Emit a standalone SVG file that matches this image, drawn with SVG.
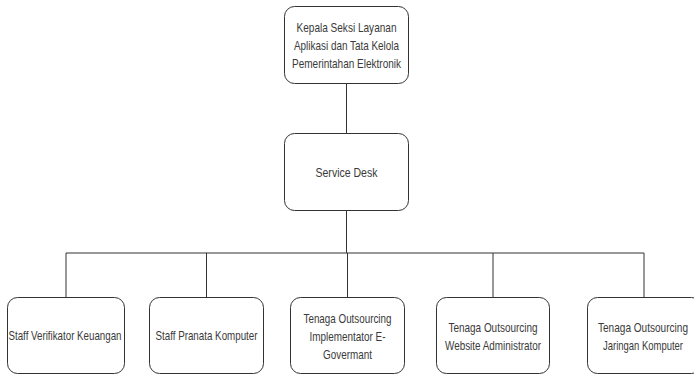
<svg xmlns="http://www.w3.org/2000/svg" width="694" height="375" viewBox="0 0 694 375">
  <style>
    .box { fill: #ffffff; stroke: #333333; stroke-width: 1; }
    .link { fill: none; stroke: #333333; stroke-width: 1; }
    .lbl { font-family: "Liberation Sans", Arial, sans-serif; font-size: 13px; fill: #3a3a3a; text-anchor: middle; dominant-baseline: central; }
  </style>
  <rect width="694" height="375" fill="#ffffff"/>

  <g id="connectors">
    <path class="link" d="M346.5 83 V133"/>
    <path class="link" d="M346.5 211 V253"/>
    <path class="link" d="M66 253 H644"/>
    <path class="link" d="M66 253 V297"/>
    <path class="link" d="M206.5 253 V297"/>
    <path class="link" d="M347.5 253 V297"/>
    <path class="link" d="M493 253 V297"/>
    <path class="link" d="M644 253 V297"/>
  </g>

  <g id="kepala-seksi">
    <rect class="box" x="284.5" y="6.5" width="124" height="77" rx="10"/>
    <text class="lbl" x="346.5" y="27" textLength="100" lengthAdjust="spacingAndGlyphs">Kepala Seksi Layanan</text>
    <text class="lbl" x="346.5" y="45" textLength="105" lengthAdjust="spacingAndGlyphs">Aplikasi dan Tata Kelola</text>
    <text class="lbl" x="346.5" y="63" textLength="109" lengthAdjust="spacingAndGlyphs">Pemerintahan Elektronik</text>
  </g>

  <g id="service-desk">
    <rect class="box" x="284.5" y="133.5" width="124" height="77" rx="10"/>
    <text class="lbl" x="346.5" y="172" textLength="62" lengthAdjust="spacingAndGlyphs">Service Desk</text>
  </g>

  <g id="staff-verifikator">
    <rect class="box" x="7.5" y="297.5" width="117" height="76" rx="10"/>
    <text class="lbl" x="65" y="335" textLength="113" lengthAdjust="spacingAndGlyphs">Staff Verifikator Keuangan</text>
  </g>

  <g id="staff-pranata">
    <rect class="box" x="149.5" y="297.5" width="114" height="76" rx="10"/>
    <text class="lbl" x="206.5" y="335" textLength="102" lengthAdjust="spacingAndGlyphs">Staff Pranata Komputer</text>
  </g>

  <g id="outsourcing-egov">
    <rect class="box" x="290.5" y="297.5" width="114" height="76" rx="10"/>
    <text class="lbl" x="347.5" y="318" textLength="88" lengthAdjust="spacingAndGlyphs">Tenaga Outsourcing</text>
    <text class="lbl" x="347.5" y="336" textLength="76" lengthAdjust="spacingAndGlyphs">Implementator E-</text>
    <text class="lbl" x="347.5" y="354" textLength="49" lengthAdjust="spacingAndGlyphs">Govermant</text>
  </g>

  <g id="outsourcing-website">
    <rect class="box" x="436.5" y="297.5" width="113" height="76" rx="10"/>
    <text class="lbl" x="493" y="327" textLength="89" lengthAdjust="spacingAndGlyphs">Tenaga Outsourcing</text>
    <text class="lbl" x="493" y="345" textLength="96" lengthAdjust="spacingAndGlyphs">Website Administrator</text>
  </g>

  <g id="outsourcing-jaringan">
    <rect class="box" x="587.5" y="297.5" width="114" height="76" rx="10"/>
    <text class="lbl" x="643" y="327" textLength="90" lengthAdjust="spacingAndGlyphs">Tenaga Outsourcing</text>
    <text class="lbl" x="643" y="345" textLength="80" lengthAdjust="spacingAndGlyphs">Jaringan Komputer</text>
  </g>
</svg>
